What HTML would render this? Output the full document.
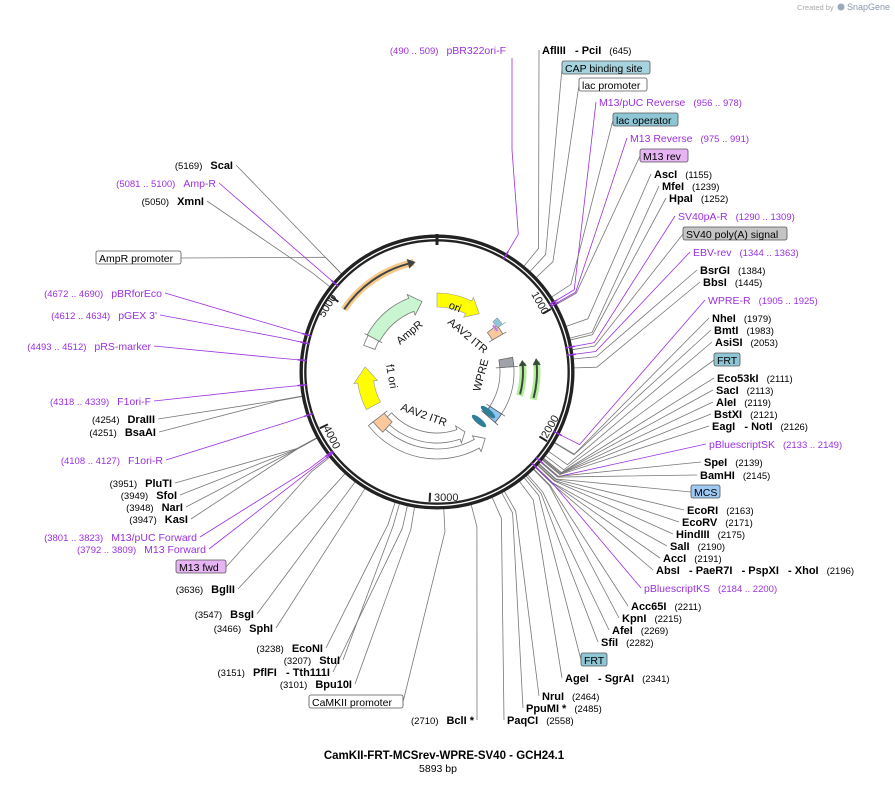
<!DOCTYPE html>
<html><head><meta charset="utf-8"><style>
body{margin:0;background:#fff;}
svg{display:block;font-family:"Liberation Sans","DejaVu Sans",sans-serif;}
.b{font-weight:bold;font-size:11px;fill:#000}
.n{font-size:9.5px;fill:#000}
.pu{font-size:10.5px;fill:#9a30e0}
.pn{font-size:9.5px;fill:#9a30e0}
.bx{font-size:10.5px;fill:#000}
</style></head><body>
<svg id="s" width="895" height="804" viewBox="0 0 895 804" xmlns="http://www.w3.org/2000/svg"></svg>
<script>
var CX=437,CY=372,N=5893;
var S='\u00a0\u00a0\u00a0-\u00a0';
function pt(bp,r){var a=bp/N*2*Math.PI;return [CX+r*Math.sin(a),CY-r*Math.cos(a)];}
function pa(deg,r){var a=deg*Math.PI/180;return [CX+r*Math.sin(a),CY-r*Math.cos(a)];}
function arc(d1,d2,r){var p1=pa(d1,r),p2=pa(d2,r);var large=Math.abs(d2-d1)>180?1:0;var sw=d2>d1?1:0;return "M"+p1[0]+" "+p1[1]+" A"+r+" "+r+" 0 "+large+" "+sw+" "+p2[0]+" "+p2[1];}
function band(d1,d2,r,w,head){
 var ri=r-w/2,ro=r+w/2,dir=d2>d1?1:-1;var hd=d2-dir*head;
 var a=pa(d1,ro),b=pa(hd,ro),c=pa(hd,ro+4),t=pa(d2,r),e=pa(hd,ri-4),f=pa(hd,ri),g=pa(d1,ri);
 var sw=dir>0?1:0,sw2=dir>0?0:1;
 return "M"+a+" A"+ro+" "+ro+" 0 0 "+sw+" "+b+" L"+c+" L"+t+" L"+e+" L"+f+" A"+ri+" "+ri+" 0 0 "+sw2+" "+g+" Z";}
var o=[];
var R=[
['p',506,50,'pBR322ori-F','(490 .. 509)',500,'L'],
['e',542,50,'AflIII'+S+'PciI','(645)',645],
['b',562,68,'CAP binding site','',700,'#a6d3de',650],
['b',579,85,'lac promoter','',760,'#fff',647],
['p',599,102,'M13/pUC Reverse','(956 .. 978)',967],
['b',613,120,'lac operator','',930,'#8fc6d6',678],
['p',630,138,'M13 Reverse','(975 .. 991)',983],
['b',640,156,'M13 rev','',990,'#e6b4f2',688],
['e',654,174,'AscI','(1155)',1155],
['e',662,186,'MfeI','(1239)',1239],
['e',669,198,'HpaI','(1252)',1252],
['p',678,216,'SV40pA-R','(1290 .. 1309)',1300],
['b',683,234,'SV40 poly(A) signal','',1320,'#c4c4c4',787],
['p',693,252,'EBV-rev','(1344 .. 1363)',1353],
['e',700,270,'BsrGI','(1384)',1384],
['e',703,282,'BbsI','(1445)',1445],
['p',708,300,'WPRE-R','(1905 .. 1925)',1915],
['e',712,318,'NheI','(1979)',1979],
['e',714,330,'BmtI','(1983)',1983],
['e',715,342,'AsiSI','(2053)',2053],
['b',714,360,'FRT','',2090,'#8fc6d6',740],
['e',717,378,'Eco53kI','(2111)',2111],
['e',716,390,'SacI','(2113)',2113],
['e',716,402,'AleI','(2119)',2119],
['e',714,414,'BstXI','(2121)',2121],
['e',712,426,'EagI'+S+'NotI','(2126)',2126],
['p',709,444,'pBluescriptSK','(2133 .. 2149)',2141],
['e',704,462,'SpeI','(2139)',2139],
['e',700,475,'BamHI','(2145)',2145],
['b',691,492,'MCS','',2160,'#9ec9f2',720],
['e',687,510,'EcoRI','(2163)',2163],
['e',682,522,'EcoRV','(2171)',2171],
['e',676,534,'HindIII','(2175)',2175],
['e',670,546,'SalI','(2190)',2190],
['e',663,558,'AccI','(2191)',2191],
['e',656,570,'AbsI'+S+'PaeR7I'+S+'PspXI'+S+'XhoI','(2196)',2196],
['p',644,588,'pBluescriptKS','(2184 .. 2200)',2192],
['e',631,606,'Acc65I','(2211)',2211],
['e',622,618,'KpnI','(2215)',2215],
['e',612,630,'AfeI','(2269)',2269],
['e',601,642,'SfiI','(2282)',2282],
['b',581,660,'FRT','',2300,'#8fc6d6',607],
['e',565,678,'AgeI'+S+'SgrAI','(2341)',2341],
['e',542,696,'NruI','(2464)',2464],
['e',526,708,'PpuMI *','(2485)',2485],
['e',507,720,'PaqCI','(2558)',2558]
];
var L=[
['e',474,720,'BclI *','(2710)',2710],
['b',309,702,'CaMKII promoter','',2900,'#fff',403],
['e',352,684,'Bpu10I','(3101)',3101],
['e',330,672,'PflFI'+S+'Tth111I','(3151)',3151],
['e',340,660,'StuI','(3207)',3207],
['e',323,648,'EcoNI','(3238)',3238],
['e',273,628,'SphI','(3466)',3466],
['e',254,614,'BsgI','(3547)',3547],
['e',235,589,'BglII','(3636)',3636],
['b',176,567,'M13 fwd','',3790,'#e6b4f2',226],
['p',206,549,'M13 Forward','(3792 .. 3809)',3800],
['p',197,537,'M13/pUC Forward','(3801 .. 3823)',3812],
['e',188,519,'KasI','(3947)',3947],
['e',183,507,'NarI','(3948)',3948],
['e',177,495,'SfoI','(3949)',3949],
['e',172,483,'PluTI','(3951)',3951],
['p',163,460,'F1ori-R','(4108 .. 4127)',4117],
['e',156,432,'BsaAI','(4251)',4251],
['e',155,419,'DraIII','(4254)',4254],
['p',151,401,'F1ori-F','(4318 .. 4339)',4328],
['p',151,346,'pRS-marker','(4493 .. 4512)',4502],
['p',157,315,"pGEX 3'",'(4612 .. 4634)',4623],
['p',162,293,'pBRforEco','(4672 .. 4690)',4681],
['b',96,258,'AmpR promoter','',5170,'#fff',181],
['e',204,201,'XmnI','(5050)',5050],
['p',216,183,'Amp-R','(5081 .. 5100)',5090],
['e',233,165,'ScaI','(5169)',5169]
];
function conn(x,y,bp,col){var k=pt(bp,160),e=pt(bp,134);
 o.push('<polyline points="'+x+','+y+' '+k+' '+e+'" fill="none" stroke="'+col+'" stroke-width="0.8"/>');}
function box(d,right){var x=d[1],y=d[2],x2=d[7];
 o.push('<rect x="'+x+'" y="'+(y-7)+'" width="'+(x2-x)+'" height="13" rx="2" fill="'+d[6]+'" stroke="#555" stroke-width="0.8"/>');
 o.push('<text class="bx" x="'+(x+3)+'" y="'+(y+4)+'">'+d[3]+'</text>');conn(right?x:x2,y,d[5],'#777');}
R.forEach(function(d){
 var t=d[0],x=d[1],y=d[2];
 if(t==='b'){box(d,true);return;}
 if(d[6]==='L'){o.push('<text x="'+x+'" y="'+(y+4)+'" text-anchor="end"><tspan class="pn">'+d[4]+'</tspan><tspan class="pu" dx="8">'+d[3]+'</tspan></text>');
   o.push('<polyline points="512,58 512,150 '+pt(d[5],160)+' '+pt(d[5],134)+'" fill="none" stroke="#9a30e0" stroke-width="0.8"/>');return;}
 if(t==='e')o.push('<text x="'+x+'" y="'+(y+4)+'"><tspan class="b">'+d[3]+'</tspan><tspan class="n" dx="8">'+d[4]+'</tspan></text>');
 else o.push('<text x="'+x+'" y="'+(y+4)+'"><tspan class="pu">'+d[3]+'</tspan><tspan class="pn" dx="8">'+d[4]+'</tspan></text>');
 conn(x-3,y,d[5],t==='p'?'#9a30e0':'#777');
});
L.forEach(function(d){
 var t=d[0],x=d[1],y=d[2];
 if(t==='b'){box(d,false);return;}
 if(t==='e')o.push('<text x="'+x+'" y="'+(y+4)+'" text-anchor="end"><tspan class="n">'+d[4]+'</tspan><tspan class="b" dx="8">'+d[3]+'</tspan></text>');
 else o.push('<text x="'+x+'" y="'+(y+4)+'" text-anchor="end"><tspan class="pn">'+d[4]+'</tspan><tspan class="pu" dx="8">'+d[3]+'</tspan></text>');
 conn(x+3,y,d[5],t==='p'?'#9a30e0':'#777');
});
o.push('<circle cx="'+CX+'" cy="'+CY+'" r="134" fill="none" stroke="#222" stroke-width="7"/>');
o.push('<circle cx="'+CX+'" cy="'+CY+'" r="133.5" fill="none" stroke="#fff" stroke-width="1.3"/>');
o.push('<line x1="437" y1="234" x2="437" y2="245" stroke="#222" stroke-width="3"/>');
[1000,2000,3000,4000,5000].forEach(function(b){var a=pt(b,130),c=pt(b,121);o.push('<line x1="'+a[0]+'" y1="'+a[1]+'" x2="'+c[0]+'" y2="'+c[1]+'" stroke="#222" stroke-width="2"/>');});
o.push('<text x="434" y="501" font-size="11" fill="#222">3000</text>');
o.push('<text font-size="11" fill="#222" transform="translate(531,294) rotate(61)">1000</text>');
o.push('<text font-size="11" fill="#222" transform="translate(547,439) rotate(-60)">2000</text>');
o.push('<text font-size="11" fill="#222" transform="translate(323,428) rotate(63)">4000</text>');
o.push('<text font-size="11" fill="#222" transform="translate(324,318) rotate(-58)">5000</text>');
[500,967,983,1300,1353,1915,2141,2192,3800,3812,4117,4328,4502,4623,4681,5090].forEach(function(b){var a=pt(b,140),c=pt(b,131);o.push('<line x1="'+a[0]+'" y1="'+a[1]+'" x2="'+c[0]+'" y2="'+c[1]+'" stroke="#9a30e0" stroke-width="1.5"/>');});
o.push('<path d="'+arc(-56,-12,112)+'" stroke="#f7c98a" stroke-width="7" fill="none"/>');
o.push('<path d="'+arc(-56,-15,112)+'" stroke="#444" stroke-width="2" fill="none"/>');
var h=pa(-11,112),h1=pa(-15,117),h2=pa(-15,107);o.push('<polygon points="'+h+' '+h1+' '+h2+'" fill="#444"/>');
o.push('<path d="'+band(-62,-12,72,14,9)+'" fill="#c9f5d0" stroke="#777" stroke-width="0.8"/>');
o.push('<path d="'+band(-70,-62,72,12,0)+'" fill="#fff" stroke="#777" stroke-width="0.8"/>');
o.push('<path d="'+band(0,36,72,14,10)+'" fill="#ffff00" stroke="#999" stroke-width="0.6"/>');
o.push('<path d="'+band(-118,-86,72,16,12)+'" fill="#ffff00" stroke="#999" stroke-width="0.6"/>');
o.push('<path d="'+band(-132,-205,66,10,6)+'" fill="#fff" stroke="#777" stroke-width="0.8"/>');
o.push('<path d="'+band(-128,-216,82,10,7)+'" fill="#fff" stroke="#777" stroke-width="0.8"/>');
o.push('<path d="'+band(-138,-128,74,14,0)+'" fill="#fcc99c" stroke="#777" stroke-width="0.8"/>');
o.push('<path d="'+band(86,123,70,14,0)+'" fill="#fff" stroke="#777" stroke-width="0.8"/>');
o.push('<path d="'+band(79,86,70,14,0)+'" fill="#a0a4aa" stroke="#666" stroke-width="0.8"/>');
o.push('<path d="'+band(123,131,70,14,0)+'" fill="#8ec4f0" stroke="#555" stroke-width="0.8"/>');
o.push('<ellipse cx="488" cy="412" rx="3" ry="9" fill="#2f7f99" transform="rotate(-50 488 412)"/>');
o.push('<ellipse cx="479" cy="421" rx="3" ry="9" fill="#2f7f99" transform="rotate(-50 479 421)"/>');
o.push('<path d="'+band(52,60,70,12,0)+'" fill="#fcc99c" stroke="#777" stroke-width="0.8"/>');
o.push('<path d="'+band(48,54,78,6,0)+'" fill="#8fc6d6" stroke="#777" stroke-width="0.5"/>');
o.push('<path d="'+band(50,56,73,2,0)+'" fill="#c080f0" stroke="none"/>');
[86,100].forEach(function(r){o.push('<path d="'+arc(106,84,r)+'" stroke="#b5ec9c" stroke-width="7" fill="none"/>');
 o.push('<path d="'+arc(105,85,r)+'" stroke="#3a4a3a" stroke-width="2" fill="none"/>');
 var t=pa(82,r),a=pa(86,r+4),b=pa(86,r-4);o.push('<polygon points="'+t+' '+a+' '+b+'" fill="#3a4a3a"/>');});
o.push('<text font-size="11" fill="#111" transform="translate(448,308) rotate(22)">ori</text>');
o.push('<text font-size="11" fill="#111" transform="translate(400,345) rotate(-40)">AmpR</text>');
o.push('<text font-size="11" fill="#111" transform="translate(447,323) rotate(40)">AAV2 ITR</text>');
o.push('<text font-size="11" fill="#111" transform="translate(480,392) rotate(-75)">WPRE</text>');
o.push('<text font-size="11" fill="#111" transform="translate(386,365) rotate(80)">f1 ori</text>');
o.push('<text font-size="11" fill="#111" transform="translate(400,410) rotate(20)">AAV2 ITR</text>');
o.push('<text x="444" y="759" text-anchor="middle" font-size="11.5" font-weight="bold">CamKII-FRT-MCSrev-WPRE-SV40 - GCH24.1</text>');
o.push('<text x="438" y="772" text-anchor="middle" font-size="10.5">5893 bp</text>');
o.push('<text x="797" y="10" font-size="7.5" fill="#aaa">Created by</text><circle cx="841" cy="7" r="3.5" fill="#9ab"/><text x="847" y="10" font-size="9" fill="#89a">SnapGene</text>');
document.getElementById('s').innerHTML=o.join('');
</script>
</body></html>
